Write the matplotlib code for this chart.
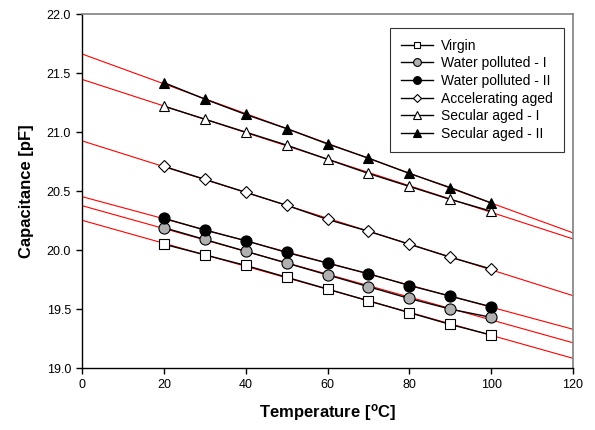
import numpy as np
import matplotlib.pyplot as plt

plt.rcParams["font.family"] = ["Liberation Sans", "DejaVu Sans"]

temperature = [20, 30, 40, 50, 60, 70, 80, 90, 100]

virgin = [20.05, 19.96, 19.87, 19.77, 19.67, 19.57, 19.47, 19.37, 19.28]
water_1 = [20.19, 20.09, 19.99, 19.89, 19.79, 19.69, 19.59, 19.50, 19.43]
water_2 = [20.27, 20.17, 20.08, 19.98, 19.89, 19.80, 19.70, 19.61, 19.52]
accel = [20.71, 20.60, 20.49, 20.38, 20.26, 20.16, 20.05, 19.94, 19.84]
secular_1 = [21.22, 21.11, 21.00, 20.89, 20.77, 20.65, 20.54, 20.43, 20.33]
secular_2 = [21.42, 21.28, 21.15, 21.03, 20.90, 20.78, 20.65, 20.53, 20.40]

labels = ["Virgin", "Water polluted - I", "Water polluted - II",
          "Accelerating aged", "Secular aged - I", "Secular aged - II"]
series = [virgin, water_1, water_2, accel, secular_1, secular_2]
markers = ["s", "o", "o", "D", "^", "^"]
faces = ["white", "#b0b0b0", "black", "white", "white", "black"]
msizes = [7, 8, 8, 6.5, 7.5, 7.5]

fig = plt.figure(figsize=(5.95, 4.30), dpi=100)
ax = fig.add_axes([0.138, 0.144, 0.825, 0.823])

# linear fits, extended over the whole x range
x_fit = np.array([0, 120])
for y in series:
    k, b = np.polyfit(temperature, y, 1)
    ax.plot(x_fit, k * x_fit + b, color="red", lw=0.8, zorder=2)

handles = []
for y, lab, m, fc, ms in zip(series, labels, markers, faces, msizes):
    h, = ax.plot(temperature, y, color="black", lw=1.0, marker=m, markersize=ms,
                 markerfacecolor=fc, markeredgecolor="black", markeredgewidth=0.8,
                 label=lab, zorder=3)
    handles.append(h)

ax.set_xlim(0, 120)
ax.set_ylim(19.0, 22.0)
ax.set_xticks(range(0, 121, 20))
ax.set_yticks(np.arange(19.0, 22.01, 0.5))
ax.set_yticklabels([f"{v:.1f}" for v in np.arange(19.0, 22.01, 0.5)])
ax.tick_params(direction="out", length=4, width=1, labelsize=9, pad=4)
for s in ["top", "right"]:
    ax.spines[s].set_color("#808080")
    ax.spines[s].set_linewidth(1.2)
for s in ["left", "bottom"]:
    ax.spines[s].set_linewidth(1.0)

ax.set_xlabel("Temperature [$\\mathregular{^{o}}$C]", fontsize=12, fontweight="bold", labelpad=8)
ax.set_ylabel("Capacitance [pF]", fontsize=12, fontweight="bold", labelpad=9)

leg = ax.legend(handles=handles, loc="upper left", bbox_to_anchor=(0.627, 0.962),
                fontsize=10, frameon=True, fancybox=False, edgecolor="black",
                handlelength=2.3, labelspacing=0.26, borderpad=0.8, markerscale=0.7,
                handletextpad=0.6, borderaxespad=0)
leg.get_frame().set_linewidth(0.8)

fig.savefig("out.png", dpi=100)
